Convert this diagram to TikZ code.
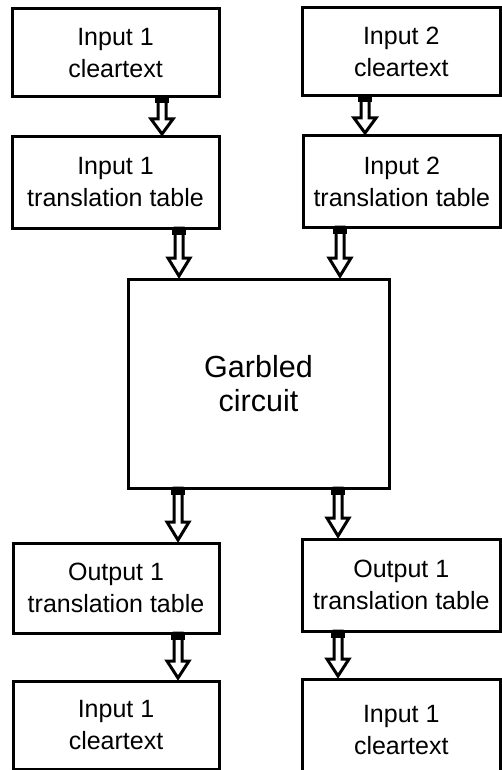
\documentclass[tikz,border=0pt]{standalone}
\usepackage{fontspec}
\setmainfont{Liberation Sans}
\usetikzlibrary{calc}

\tikzset{
  box/.style={draw, line width=3pt, fill=white, inner sep=0pt, align=center,
    font=\fontsize{25}{32}\selectfont},
  bigbox/.style={box, font=\fontsize{30.5}{34}\selectfont},
  blockarrow/.style={draw=black, fill=white, line width=3pt, line join=miter},
  arrowstub/.style={fill=black}
}

% hollow block arrow from the bottom of node #1 to the top of node #2 at x = #3,
% with a head #4 pt tall; a short solid stub joins it to the source box
\newcommand\blockarr[4]{%
  \draw[blockarrow] let \p1=(#1.south), \p2=(#2.north) in
    ({#3pt-4pt},{\y1+1.5pt}) -- ({#3pt-4pt},{\y2+1.5pt+#4pt}) -- ({#3pt-11pt},{\y2+1.5pt+#4pt})
    -- (#3pt,{\y2+1.5pt}) -- ({#3pt+11pt},{\y2+1.5pt+#4pt}) -- ({#3pt+4pt},{\y2+1.5pt+#4pt})
    -- ({#3pt+4pt},{\y1+1.5pt}) -- cycle;
  \fill[arrowstub] let \p1=(#1.south) in
    ({#3pt-7pt},{\y1+1.5pt}) rectangle ({#3pt+7pt},{\y1-5pt});}

\begin{document}
\begin{tikzpicture}[x=1pt,y=-1pt]
  \clip (0,0) rectangle (502,770);
  \fill[white] (0,0) rectangle (502,770);

  % input side
  \node[box, minimum width=207pt, minimum height=88pt] (in1) at (115.5,53) {Input 1\\cleartext};
  \node[box, minimum width=198.5pt, minimum height=88pt] (in2) at (401.25,52) {Input 2\\cleartext};
  \node[box, minimum width=207pt, minimum height=91pt] (tt1) at (115.5,182.5) {Input 1\\translation table};
  \node[box, minimum width=197.5pt, minimum height=91pt] (tt2) at (401.75,181.5) {Input 2\\translation table};

  % the circuit
  \node[bigbox, minimum width=261pt, minimum height=209pt] (gc) at (258.5,383.5) {Garbled\\circuit};

  % output side
  \node[box, minimum width=206pt, minimum height=90pt] (ot1) at (116,588) {Output 1\\translation table};
  \node[box, minimum width=198.5pt, minimum height=92pt] (ot2) at (401.25,585) {Output 1\\translation table};
  \node[box, minimum width=206pt, minimum height=88pt] (out1) at (116,725) {Input 1\\cleartext};
  \node[box, minimum width=198.5pt, minimum height=102pt] (out2) at (401.25,730) {Input 1\\cleartext};

  % connectors
  \blockarr{in1}{tt1}{162}{15}
  \blockarr{in2}{tt2}{365}{15}
  \blockarr{tt1}{gc}{179}{18}
  \blockarr{tt2}{gc}{340}{18}
  \blockarr{gc}{ot1}{178}{18}
  \blockarr{gc}{ot2}{338}{18}
  \blockarr{ot1}{out1}{178}{17}
  \blockarr{ot2}{out2}{338}{17}
\end{tikzpicture}
\end{document}
